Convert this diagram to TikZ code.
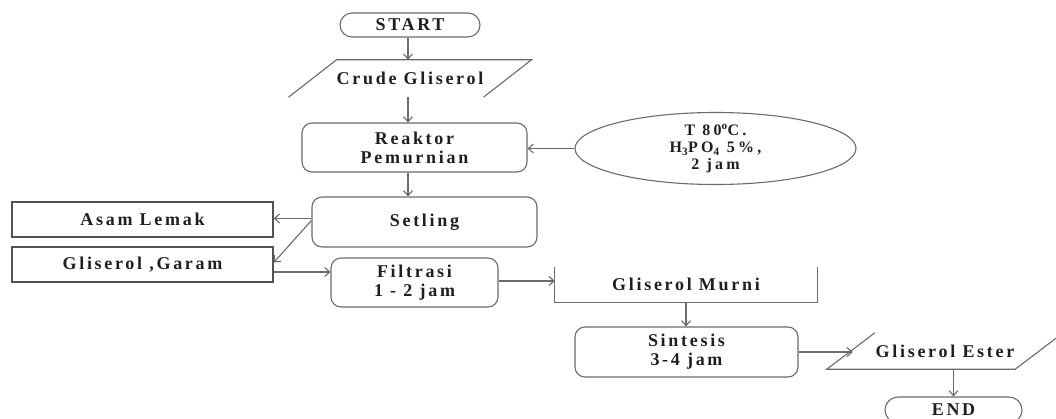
\documentclass[tikz,border=0pt]{standalone}
\usepackage{fontspec}
\setmainfont{Liberation Serif}[LetterSpace=15]
\usetikzlibrary{arrows.meta,calc,shapes.geometric}
\begin{document}
\begin{tikzpicture}[x=1pt,y=-1pt,
  lc/.style={draw=black!58,line width=1.1pt},
  txt/.style={font=\bfseries\fontsize{18}{19}\selectfont,text=black!88,align=center,inner sep=0pt},
  rbox/.style={txt,lc,rounded corners=10pt},
  sbox/.style={txt,draw=black!68,line width=1.5pt},
  plain/.style={txt,draw=none},
  arr/.style={lc,-{Straight Barb[length=5pt,width=9pt]}}]
\useasboundingbox (0,0) rectangle (1056,419);
\clip (0,0) rectangle (1056,419);
\fill[white] (0,0) rectangle (1056,419);

% nodes
\node[rbox,rounded corners=12pt,minimum width=140pt,minimum height=24pt] (start) at (410,25) {START};
\node[plain,minimum width=139pt,minimum height=37pt] (crude) at (410,78.5) {Crude Gliserol};
\node[rbox,minimum width=225pt,minimum height=49pt] (reaktor) at (414.5,147.5) {Reaktor\\Pemurnian};
\node[txt,lc,ellipse,minimum width=281pt,minimum height=72pt,font=\bfseries\fontsize{16}{17}\selectfont\addfontfeature{LetterSpace=20}] (cond) at (715.5,148.5) {T 80\textsuperscript{o}C.\\H\textsubscript{3}PO\textsubscript{4} 5\%,\\2 jam};
\node[rbox,minimum width=225pt,minimum height=50pt] (setling) at (424.5,222) {Setling};
\node[sbox,minimum width=261pt,minimum height=35pt] (asam) at (142.5,219.5) {Asam Lemak};
\node[sbox,minimum width=261pt,minimum height=35pt] (garam) at (142.5,264.5) {Gliserol ,Garam};
\node[rbox,minimum width=167pt,minimum height=49pt] (filtrasi) at (414.5,282.5) {Filtrasi\\1 - 2 jam};
\node[plain,minimum width=262pt,minimum height=35pt] (murni) at (686,284.5) {Gliserol Murni};
\node[rbox,minimum width=223pt,minimum height=50pt] (sintesis) at (686.5,352) {Sintesis\\3-4 jam};
\node[plain,minimum width=140pt,minimum height=36pt] (ester) at (945,351) {Gliserol Ester};
\node[rbox,rounded corners=13pt,minimum width=137pt,minimum height=26pt] (end) at (953.5,410) {END};

% partial shape outlines
\draw[lc] ($(crude.south west)+(-48,0)$) -- (crude.north west) -- ($(crude.north east)+(48,0)$) -- (crude.south east);
\draw[lc] (murni.north west) -- (murni.south west) -- (murni.south east) -- (murni.north east);
\draw[lc] (ester.north west) -- ($(ester.south west)+(-48,0)$) -- (ester.south east) -- ($(ester.north east)+(48,0)$);

% helper coordinates
\coordinate (esterin) at ($(ester.west)+(-22,0)$);
\coordinate (spine) at (408,0);
\coordinate (s1) at ($(asam.east -| setling.west)+(0,-1)$);
\coordinate (s2) at ($(asam.east -| setling.west)+(0,1)$);
\coordinate (g1) at ($(garam.east)+(0,7.5)$);
\coordinate (f1) at ($(filtrasi.east)+(0,-1.5)$);

% connectors
\draw[arr] (spine |- start.south) -- (spine |- crude.north);
\draw[arr] (spine |- crude.south) -- (spine |- reaktor.north);
\draw[arr] (spine |- reaktor.south) -- (spine |- setling.north);
\draw[arr] (cond.west) -- (cond.west -| reaktor.east);
\draw[arr] (s1) -- (s1 -| asam.east);
\draw[arr] (s2) -- ($(garam.east)+(0,-2)$);
\draw[arr] (g1) -- (g1 -| filtrasi.west);
\draw[arr] (f1) -- (f1 -| murni.west);
\draw[arr] (murni.south) -- (murni.south |- sintesis.north);
\draw[arr] (sintesis.east) -- (sintesis.east -| esterin);
\draw[arr] (end.north |- ester.south) -- (end.north);
\end{tikzpicture}
\end{document}
